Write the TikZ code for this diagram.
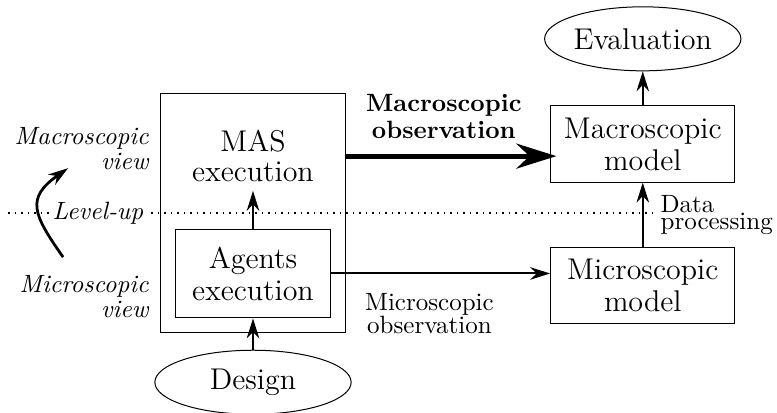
\documentclass[tikz,border=0pt]{standalone}
\usepackage{amsmath}
\usepackage{tikz}
\usetikzlibrary{arrows.meta, positioning, shapes.geometric}

\begin{document}
\begin{tikzpicture}[
    box/.style={
        draw,
        font=\large,
        minimum width=2.59cm,
        minimum height=1.07cm,
        align=center
    },
    outer/.style={
        draw,
        minimum width=2.59cm,
        minimum height=3.35cm
    },
    inner/.style={
        draw,
        font=\large,
        minimum width=2.17cm,
        minimum height=1.25cm,
        align=center
    },
    oval/.style={
        draw,
        ellipse,
        font=\large,
        inner sep=0pt,
        minimum width=2.76cm,
        minimum height=0.9cm
    },
    viewlabel/.style={
        font=\itshape,
        align=right,
        anchor=east
    },
    arrow/.style={-{Stealth[length=8pt, width=5pt]}, thick},
    bigarrow/.style={-{Stealth[length=16pt, width=10pt]}, line width=2pt}
]
\useasboundingbox (-3.557,-2.798) rectangle (7.367,2.995);

% Level line
\coordinate (lvlstart) at (-3.44,0);
\coordinate (lvlend) at (5.69,0);
\draw[semithick, dotted] (lvlstart) -- (lvlend);

% Multi-agent system
\node[outer] (mas) at (0,0) {};
\node[inner] (agents) at (0,-0.85) {Agents\\[-1.2pt]execution};
\node[font=\large, align=center] (masexec) at (0,0.80) {MAS\\[-2pt]execution};
\node[oval, below=0.24cm of mas] (design) {Design};

% Models
\node[box] (macro) at (5.48,0.97) {Macroscopic\\[-1.2pt]model};
\node[box, below=0.91cm of macro] (micro) {Microscopic\\[-1.2pt]model};
\node[oval, above=0.48cm of macro] (eval) {Evaluation};

% Views
\node[viewlabel] (macroview) at (-1.345,0.9) {Macroscopic\\[-2pt]view};
\node[viewlabel] (microview) at (-1.345,-1.18) {Microscopic\\[-2pt]view};
\node[font=\itshape, fill=white, inner sep=1pt] (levelup) at (-2.18,0) {Level-up};

\coordinate (upstart) at (-2.67,-0.62);
\coordinate (upend) at (-2.6,0.63);
\draw[arrow, line width=1.1pt] (upstart) to[out=125, in=215, looseness=1.5] (upend);

% Connections
\draw[arrow] (design) -- (agents);
\draw[arrow] (agents) -- (masexec);
\draw[bigarrow, shorten >=-2.5pt] (mas.east |- masexec) -- node[above=2.8pt, pos=0.48, font=\bfseries, align=center] {Macroscopic\\[-1.2pt]observation} (macro.west |- masexec);
\draw[arrow] (agents.east) -- node[below=0.15cm, pos=0.45, align=center] {Microscopic\\[-2.8pt]observation} (agents.east -| micro.west);
\draw[arrow] (micro) -- node[right=0.12cm, align=left] (dproc) {Data\\[-5pt]processing} (macro);
\draw[arrow] (macro) -- (eval);

\end{tikzpicture}
\end{document}
